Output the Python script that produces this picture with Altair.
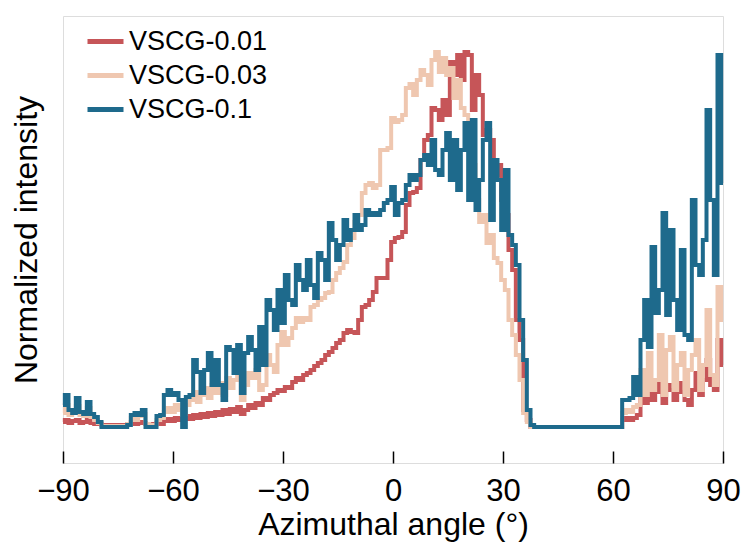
import altair as alt
import pandas as pd

angles = list(range(-90, 91))

series_names = ["VSCG-0.01", "VSCG-0.03", "VSCG-0.1"]
series_colors = ["#c65558", "#efc7b0", "#1e6a8c"]

vscg_001 = [
    41, 43, 40, 42, 43, 40, 41, 43, 40, 39,          # -90..-81
    39, 38, 38, 38, 38, 38, 38, 38, 39, 41,          # -80..-71
    39, 41, 40, 39, 38, 39, 40, 39, 42, 44,          # -70..-61
    42, 45, 43, 44, 47, 44, 48, 45, 49, 46,          # -60..-51
    50, 47, 51, 48, 53, 49, 54, 51, 56, 49,          # -50..-41
    53, 58, 55, 60, 58, 65, 63, 68, 70, 73,          # -40..-31
    72, 76, 75, 81, 85, 83, 88, 90, 93, 97,          # -30..-21
    100, 103, 108, 111, 115, 120, 123, 130, 133, 131,  # -20..-11
    130, 143, 156, 158, 163, 171, 185, 185, 185, 203,  # -10..-1
    221, 225, 226, 231, 258, 270, 271, 275, 303, 323,  # 0..9
    328, 355, 353, 343, 363, 348, 401, 388, 408, 383,  # 10..19
    411, 408, 353, 388, 368, 328, 333, 323, 288, 298,  # 20..29
    263, 248, 213, 193, 143, 123, 53, 43, 36, 36,      # 30..39
    36, 36, 36, 36, 36, 36, 36, 36, 36, 36,            # 40..49
    36, 36, 36, 36, 36, 36, 36, 36, 36, 36,            # 50..59
    36, 36, 36, 43, 45, 43, 45, 48, 70, 60,            # 60..69
    80, 63, 71, 83, 60, 78, 73, 63, 80, 71,            # 70..79
    63, 58, 73, 90, 68, 83, 103, 78, 73, 123,          # 80..89
    98,                                                # 90
]

vscg_003 = [
    50, 58, 48, 51, 57, 48, 47, 55, 46, 43,
    40, 37, 37, 37, 37, 37, 37, 37, 39, 45,
    43, 47, 49, 39, 37, 38, 43, 45, 51, 55,
    51, 58, 53, 49, 58, 63, 71, 61, 68, 75,
    65, 78, 70, 80, 68, 85, 75, 83, 88, 63,
    78, 90, 85, 93, 73, 78, 108, 98, 91, 118,
    131, 118, 125, 135, 145, 141, 145, 143, 156, 158,
    163, 165, 170, 171, 183, 190, 195, 201, 218, 225,
    241, 248, 270, 278, 280, 275, 278, 313, 313, 315,
    345, 341, 343, 348, 375, 379, 368, 383, 393, 388,
    378, 403, 411, 391, 405, 388, 395, 365, 383, 355,
    348, 338, 298, 263, 241, 248, 220, 228, 205, 200,
    183, 173, 143, 128, 108, 83, 50, 41, 36, 36,
    36, 36, 36, 36, 36, 36, 36, 36, 36, 36,
    36, 36, 36, 36, 36, 36, 36, 36, 36, 36,
    36, 36, 36, 50, 53, 51, 56, 58, 93, 68,
    110, 73, 83, 128, 68, 113, 126, 73, 98, 110,
    68, 93, 108, 123, 73, 98, 153, 88, 78, 176,
    143,
]

vscg_01 = [
    58, 68, 53, 50, 65, 51, 49, 61, 49, 46,
    41, 36, 36, 36, 36, 36, 36, 36, 38, 48,
    50, 48, 53, 36, 36, 36, 47, 48, 68, 73,
    68, 70, 63, 36, 66, 68, 103, 91, 70, 93,
    110, 78, 103, 78, 63, 116, 113, 90, 118, 70,
    110, 126, 113, 93, 136, 98, 163, 153, 133, 173,
    140, 188, 163, 158, 198, 183, 173, 203, 178, 165,
    210, 203, 183, 240, 223, 203, 218, 243, 223, 233,
    248, 233, 238, 253, 248, 250, 248, 253, 260, 263,
    276, 248, 260, 263, 278, 288, 283, 288, 303, 308,
    298, 323, 293, 288, 313, 330, 283, 323, 273, 313,
    340, 263, 343, 253, 283, 323, 340, 243, 303, 283,
    233, 293, 228, 218, 198, 143, 103, 53, 38, 36,
    36, 36, 36, 36, 36, 36, 36, 36, 36, 36,
    36, 36, 36, 36, 36, 36, 36, 36, 36, 36,
    36, 36, 36, 63, 63, 65, 86, 68, 123, 163,
    116, 216, 150, 173, 250, 148, 233, 163, 133, 213,
    128, 123, 263, 198, 188, 223, 353, 263, 188, 408,
    280,
]

x_ticks = [-90, -60, -30, 0, 30, 60, 90]

for vals in (vscg_001, vscg_003, vscg_01):
    assert len(vals) == len(angles), len(vals)

rows = []
for name, vals in zip(series_names, [vscg_001, vscg_003, vscg_01]):
    for a, v in zip(angles, vals):
        rows.append({"angle": a, "intensity": v, "sample": name})
df = pd.DataFrame(rows)

FONT = "Liberation Sans"

chart = alt.Chart(df).mark_line(strokeWidth=4, interpolate="step").encode(
    x=alt.X(
        "angle:Q",
        scale=alt.Scale(domain=[-90, 90], nice=False, zero=False),
        axis=alt.Axis(
            values=x_ticks,
            title="Azimuthal angle (°)",
            domain=False,
            grid=False,
            offset=-12,
            tickSize=12,
            tickWidth=1.5,
            tickColor="black",
            labelFlush=False,
            labelOverlap=False,
            labelFontSize=31,
            labelPadding=13,
            labelColor="black",
            labelFont=FONT,
            titleFont=FONT,
            titleFontSize=32,
            titleFontWeight="normal",
            titleColor="black",
            titlePadding=3,
        ),
    ),
    y=alt.Y(
        "intensity:Q",
        scale=alt.Scale(domain=[0, 447], nice=False),
        axis=alt.Axis(
            labels=False,
            ticks=False,
            domain=False,
            grid=False,
            title="Normalized intensity",
            titleFont=FONT,
            titleFontSize=32,
            titleFontWeight="normal",
            titleColor="black",
            titlePadding=20,
        ),
    ),
    color=alt.Color(
        "sample:N",
        scale=alt.Scale(domain=series_names, range=series_colors),
        legend=alt.Legend(
            title=None,
            orient="none",
            legendX=22,
            legendY=5,
            symbolType="stroke",
            symbolSize=1296,
            symbolStrokeWidth=5,
            labelFontSize=27,
            labelFont=FONT,
            labelColor="black",
            labelOffset=3,
            rowPadding=-2,
            padding=0,
        ),
    ),
).properties(
    width=660,
    height=447,
    autosize=alt.AutoSizeParams(type="none"),
    padding={"left": 63, "top": 16, "right": 22, "bottom": 86},
).configure_view(
    stroke="black",
    strokeWidth=2,
).configure(font=FONT)

chart.save("out.html", embed_options={"renderer": "svg", "actions": False})
